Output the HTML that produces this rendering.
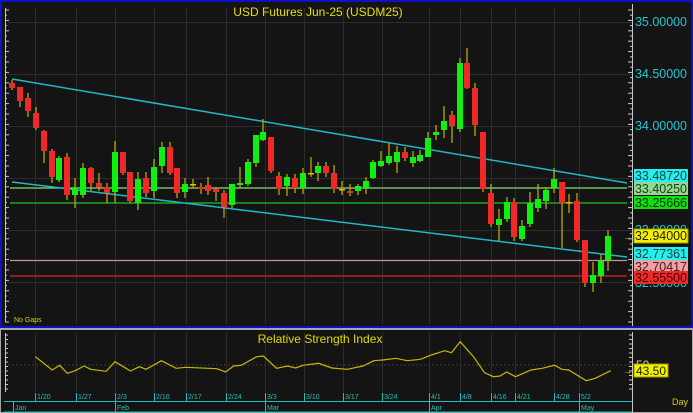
<!DOCTYPE html>
<html><head><meta charset="utf-8"><style>
html,body{margin:0;padding:0;background:#a0a0a0;}
svg{display:block;font-family:"Liberation Sans",Arial,sans-serif;}
</style></head><body>
<svg id="s" width="693" height="413" viewBox="0 0 693 413" xmlns="http://www.w3.org/2000/svg">
<rect x="0" y="0" width="693" height="413" fill="#a8a8a8"/>
<rect x="1" y="1" width="691" height="326" fill="#141414" stroke="#1010c8" stroke-width="2"/>
<rect x="1" y="330" width="691" height="82" fill="#141414"/>
<g id="grid" stroke="#2c2c2c" stroke-width="1"></g>
<line x1="5.5" y1="8" x2="5.5" y2="322" stroke="#c8c8c8"/>
<g id="lt" stroke="#c8c8c8"></g>
<line x1="632.5" y1="4" x2="632.5" y2="326" stroke="#c8c8c8"/>
<line x1="632.5" y1="332" x2="632.5" y2="413" stroke="#c8c8c8"/>
<line x1="5.5" y1="333" x2="5.5" y2="392" stroke="#c8c8c8"/>
<g id="rt" stroke="#c8c8c8"></g>
<text x="318" y="16" fill="#e8e000" font-size="12" text-anchor="middle">USD  Futures  Jun-25  (USDM25)</text>
<line x1="10" y1="188" x2="627" y2="188" stroke="#80e070" stroke-width="1.3"/>
<line x1="10" y1="203" x2="627" y2="203" stroke="#20c020" stroke-width="1.3"/>
<line x1="10" y1="260.5" x2="627" y2="260.5" stroke="#c89090" stroke-width="1.3"/>
<line x1="10" y1="276" x2="627" y2="276" stroke="#e02020" stroke-width="1.3"/>
<line x1="12" y1="79" x2="627" y2="183" stroke="#20b8c8" stroke-width="1.5"/>
<line x1="12" y1="182" x2="627" y2="257" stroke="#20b8c8" stroke-width="1.5"/>
<g id="c"></g>
<text x="14" y="322" fill="#d8d000" font-size="7">No  Gaps</text>
<g font-size="13">
<text x="635" y="26" fill="#20c8d0" textLength="52" lengthAdjust="spacingAndGlyphs">35.00000</text>
<text x="635" y="78" fill="#20c8d0" textLength="52" lengthAdjust="spacingAndGlyphs">34.50000</text>
<text x="635" y="130" fill="#20c8d0" textLength="52" lengthAdjust="spacingAndGlyphs">34.00000</text>
<text x="635" y="234" fill="#20c8d0" textLength="52" lengthAdjust="spacingAndGlyphs">33.00000</text>
<text x="635" y="287" fill="#20c8d0" textLength="52" lengthAdjust="spacingAndGlyphs">32.50000</text>
<rect x="634" y="169" width="54" height="13" fill="#20f0f0"/><text x="635" y="180" fill="#204040" textLength="52" lengthAdjust="spacingAndGlyphs">33.48720</text>
<rect x="634" y="182" width="54" height="13" fill="#90d890"/><text x="635" y="193" fill="#204020" textLength="52" lengthAdjust="spacingAndGlyphs">33.40250</text>
<rect x="634" y="196" width="54" height="13" fill="#10e010"/><text x="635" y="207" fill="#003000" textLength="52" lengthAdjust="spacingAndGlyphs">33.25666</text>
<rect x="634" y="229" width="54" height="14" fill="#f0f000" stroke="#a0a000"/><text x="635" y="240" fill="#202000" textLength="52" lengthAdjust="spacingAndGlyphs">32.94000</text>
<rect x="634" y="247" width="54" height="13" fill="#20f0f0"/><text x="635" y="258" fill="#204040" textLength="52" lengthAdjust="spacingAndGlyphs">32.77361</text>
<rect x="634" y="260" width="54" height="13" fill="#f0a0a0"/><text x="635" y="271" fill="#402020" textLength="52" lengthAdjust="spacingAndGlyphs">32.70417</text>
<rect x="634" y="271" width="54" height="13" fill="#f02828"/><text x="635" y="282" fill="#400000" textLength="52" lengthAdjust="spacingAndGlyphs">32.55500</text>
</g>
<text x="623" y="240" fill="#e0d000" font-size="9">→</text>
<text x="320" y="343" fill="#e0d800" font-size="12" text-anchor="middle">Relative  Strength  Index</text>
<line x1="8" y1="365" x2="632" y2="365" stroke="#3a3a3a" stroke-dasharray="2,2"/>
<polyline fill="none" stroke="#c8b800" stroke-width="1.2" points="35.4,356.7 52.2,370 59.7,365.3 67.3,373.3 75.2,370.7 84.1,366 90.7,369.3 106.2,371.3 115,361.7 130.5,371 139.4,366.7 146,369.3 161.5,360.7 176.1,368.3 185.9,367.3 216.8,368.7 225.7,372 233.6,366 241.2,365.3 256.7,356.7 263.3,356 276.6,368.3 287.6,366 295.6,368 303.1,365.3 318.6,363.3 331.9,368 347.4,369.3 362.9,366 373.9,360.7 382.8,360 396,358.3 407.1,360.7 420.4,359.3 431.4,355 444.7,350.7 451.4,352.7 460.2,341.7 473.5,356.7 484.5,372.7 493.4,376.7 500,376 506.7,372 515.5,376.7 531,370 542.1,368.3 554.5,365.3 562,369.3 568.6,370 586.3,380.7 595.2,378.3 610.7,370.7"/>
<text x="636" y="369" fill="#d0d0d0" font-size="12">50</text>
<rect x="634" y="364" width="34" height="13" fill="#f0f000" stroke="#a0a000"/>
<text x="636" y="375" fill="#202000" font-size="12">43.50</text>
<text x="623" y="374" fill="#e0d000" font-size="9">→</text>
<line x1="4" y1="401.5" x2="632" y2="401.5" stroke="#20c0c0"/>
<line x1="4" y1="412" x2="632" y2="412" stroke="#20c0c0"/>
<g id="d" font-size="7" fill="#20c0c0"></g>
<text x="672" y="405" fill="#d8d000" font-size="9">Day</text>
</svg>
<script>
var NS="http://www.w3.org/2000/svg";
function el(p,t,a){var e=document.createElementNS(NS,t);for(var k in a)e.setAttribute(k,a[k]);document.getElementById(p).appendChild(e);return e;}
var dates=[[35,"1/20"],[76,"1/27"],[115,"2/3"],[154,"2/10"],[186,"2/17"],[226,"2/24"],[265,"3/3"],[304,"3/10"],[343,"3/17"],[382,"3/24"],[429,"4/1"],[460,"4/8"],[491,"4/16"],[515,"4/21"],[554,"4/28"],[579,"5/2"]];
dates.forEach(function(d){
 el("grid","line",{x1:d[0]+.5,y1:8,x2:d[0]+.5,y2:324});
 el("grid","line",{x1:d[0]+.5,y1:333,x2:d[0]+.5,y2:392});
 el("d","line",{x1:d[0]+.5,y1:393,x2:d[0]+.5,y2:401,stroke:"#20c0c0"});
 var t=el("d","text",{x:d[0]+2,y:399});t.textContent=d[1];
});
[[13,"Jan"],[115,"Feb"],[265,"Mar"],[429,"Apr"],[579,"May"]].forEach(function(m){
 el("d","line",{x1:m[0]+.5,y1:402,x2:m[0]+.5,y2:412,stroke:"#20c0c0"});
 var t=el("d","text",{x:m[0]+2,y:410});t.textContent=m[1];
});
[22,74,126,178,230,282].forEach(function(y){el("grid","line",{x1:8,y1:y+.5,x2:632,y2:y+.5});});
for(var y=10;y<322;y+=5.2){var big=Math.round((y-10)/5.2)%2==0;el("lt","line",{x1:5,y1:y,x2:big?9:7,y2:y});el("rt","line",{x1:632,y1:y,x2:big?628:630,y2:y});}
for(var y=335;y<392;y+=4.5){el("lt","line",{x1:5,y1:y,x2:8,y2:y});el("rt","line",{x1:632,y1:y,x2:629,y2:y});}
var C=[[12,'r',83,88,80,90],[20,'r',87,101,87,107],[28,'r',98,111,93,117],[36,'r',113,128,107,130],[44,'r',131,151,130,163],[52,'r',151,177,149,183],[59,'g',158,180,156,182],[67,'r',157,195,153,200],[75,'g',188,195,178,208],[83,'g',168,195,163,198],[91,'r',168,183,167,191],[99,'r',183,187,173,191],[107,'r',187,193,183,203],[115,'g',152,192,141,203],[123,'r',152,173,152,175],[130,'r',172,201,172,203],[138,'g',179,203,172,210],[146,'r',178,193,172,197],[154,'g',167,191,159,198],[162,'g',147,166,142,173],[170,'r',147,173,142,175],[177,'r',168,193,168,198],[185,'g',184,192,178,198],[193,'d',184,185,179,188],[201,'r',187,189,183,194],[208,'r',185,191,177,195],[216,'r',189,192,187,201],[224,'r',193,207,190,218],[232,'g',184,205,184,208],[240,'g',183,185,167,188],[248,'g',162,184,159,186],[256,'g',135,163,135,167],[263,'g',132,140,119,141],[271,'r',137,171,137,173],[279,'r',176,189,172,195],[287,'g',177,186,174,196],[295,'r',178,188,174,193],[303,'g',173,188,168,194],[311,'d',173,174,157,177],[318,'g',166,173,162,181],[326,'r',166,173,162,177],[334,'r',173,189,165,193],[342,'d',189,190,181,195],[350,'r',191,193,184,196],[358,'g',186,191,184,195],[366,'g',181,188,177,194],[373,'g',162,178,160,179],[381,'g',161,166,151,167],[389,'g',156,163,143,165],[397,'g',152,162,146,173],[405,'r',152,158,147,161],[413,'g',157,163,151,167],[420,'g',155,161,150,162],[428,'g',138,157,132,157],[436,'g',132,135,125,140],[444,'g',121,130,106,138],[452,'r',115,126,111,143],[460,'g',63,129,58,132],[467,'r',63,88,48,89],[475,'r',88,125,83,136],[483,'r',132,189,132,192],[491,'r',193,224,184,227],[499,'g',219,225,209,241],[507,'g',202,219,197,222],[514,'r',202,237,198,241],[522,'g',226,239,220,241],[530,'g',203,224,192,227],[538,'g',199,208,184,212],[546,'g',190,201,187,209],[554,'g',179,188,168,193],[562,'r',182,203,182,248],[569,'d',202,203,194,213],[577,'r',201,240,193,242],[585,'r',240,283,240,287],[593,'g',275,283,262,292],[601,'g',261,276,254,283],[608,'g',236,260,230,271]];
C.forEach(function(c){
 el("c","line",{x1:c[0],y1:c[4],x2:c[0],y2:c[5],stroke:"#b8a800","stroke-width":1.3});
 var col=c[1]=='g'?'#10f010':(c[1]=='r'?'#f02828':'#e0c000');
 var h=Math.max(1.5,c[3]-c[2]);
 el("c","rect",{x:c[0]-3,y:c[2],width:6,height:h,fill:col});
});
</script>
</body></html>
